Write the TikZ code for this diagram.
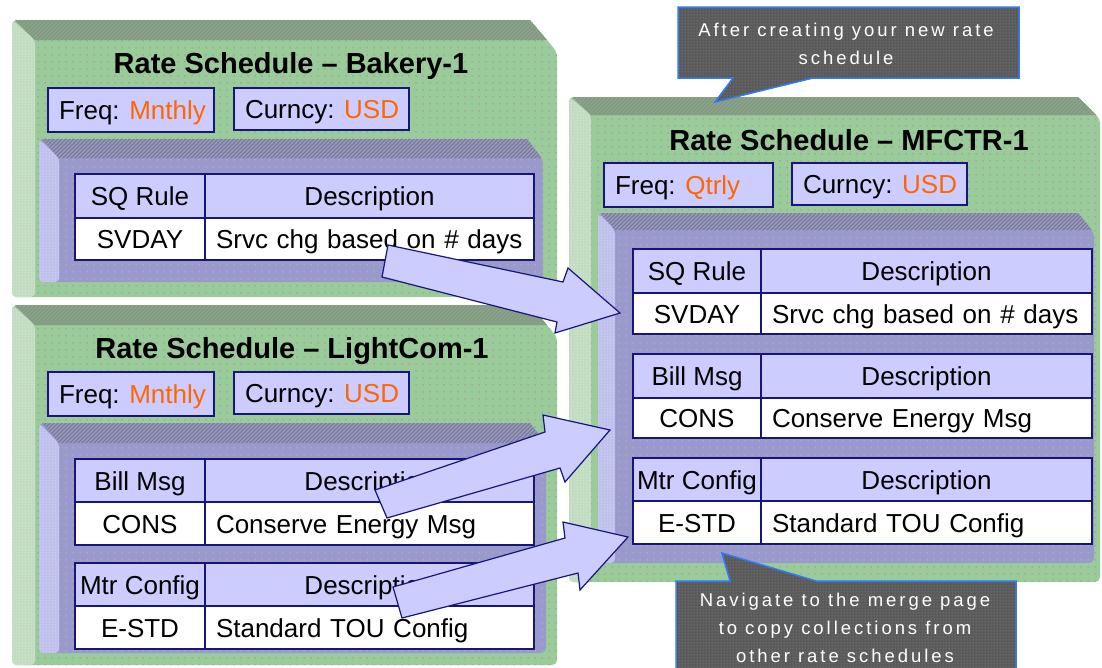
\documentclass[tikz,border=0pt]{standalone}
\usepackage{fontspec}
\setmainfont{Liberation Sans}
\newfontfamily\callfont[LetterSpace=16]{Liberation Sans}
\usetikzlibrary{patterns.meta}
\definecolor{gF}{HTML}{9ACC9A}
\definecolor{gDot}{HTML}{AE96AE}
\definecolor{gT}{HTML}{6FA36F}
\definecolor{gTH}{HTML}{9A9A9A}
\definecolor{gS}{HTML}{C2DCC2}
\definecolor{gSD}{HTML}{E6EEE6}
\definecolor{pF}{HTML}{9999CC}
\definecolor{pDot}{HTML}{B2ABD0}
\definecolor{pT}{HTML}{7474A8}
\definecolor{pTH}{HTML}{9E9EB4}
\definecolor{pS}{HTML}{C0C0EC}
\definecolor{pSD}{HTML}{E4E4FF}
\definecolor{navy}{HTML}{16167A}
\definecolor{lav}{HTML}{CCCCFF}
\definecolor{rsorange}{HTML}{FF6600}
\definecolor{cF}{HTML}{5A5A5A}
\definecolor{cD}{HTML}{828282}
\definecolor{cB}{HTML}{2A7BFF}
\pgfdeclarepattern{name=sdots, type=uncolored,
  bottom left={\pgfpoint{0pt}{0pt}}, top right={\pgfpoint{7pt}{7pt}},
  tile size={\pgfpoint{7pt}{7pt}},
  code={\pgfpathcircle{\pgfpoint{3.5pt}{3.5pt}}{1pt}\pgfusepath{fill}}}
\pgfdeclarepattern{name=fdots, type=uncolored,
  bottom left={\pgfpoint{0pt}{0pt}}, top right={\pgfpoint{3pt}{3pt}},
  tile size={\pgfpoint{3pt}{3pt}},
  code={\pgfpathcircle{\pgfpoint{1.5pt}{1.5pt}}{0.7pt}\pgfusepath{fill}}}
\pgfdeclarepattern{name=shatch, type=uncolored,
  bottom left={\pgfpoint{-1pt}{-1pt}}, top right={\pgfpoint{5pt}{5pt}},
  tile size={\pgfpoint{4pt}{4pt}},
  code={\pgfsetlinewidth{1.2pt}\pgfpathmoveto{\pgfpoint{-1pt}{-1pt}}\pgfpathlineto{\pgfpoint{5pt}{5pt}}\pgfusepath{stroke}}}
% 3D box: x1 y1 x2 y2 dx dy chamferw chamferh kind
\newcommand\tdbox[9]{%
  \path[#9front, rounded corners=5pt] (#1,#2) -- (#3-#7,#2) -- (#3,#2+#8) -- (#3,#4) -- (#1,#4) -- cycle;
  \path[#9side, rounded corners=4pt] (#1,#2) -- (#1+#5,#2+#6) -- (#1+#5,#4) -- (#1,#4) -- cycle;
  \path[#9top] (#1+3,#2) -- (#3-#7,#2) -- ({#3-#7+#7*#6/#8},#2+#6) -- (#1+#5,#2+#6) -- cycle;
}
% table: name y1 ym y2 head1 data1 data2
\newcommand\rstab[7]{%
  \node[hcell, anchor=north west, minimum width={\rsXb-\rsXa}, minimum height={#3-#2}] (#1h1) at (\rsXa,#2) {#5};
  \node[hcell, anchor=north west, minimum width={\rsXc-\rsXb}, minimum height={#3-#2}] (#1h2) at (\rsXb,#2) {Description};
  \node[dcell, anchor=north west, minimum width={\rsXb-\rsXa}, minimum height={#4-#3}] (#1d1) at (\rsXa,#3) {#6};
  \node[dcell, anchor=north west, minimum width={\rsXc-\rsXb}, minimum height={#4-#3}, text width=\rsXw, align=left, inner xsep=11pt] (#1d2) at (\rsXb,#3) {#7};
}
\begin{document}
\begin{tikzpicture}[x=1pt, y=-1pt,
  gfront/.style={fill=gF, postaction={pattern=sdots, pattern color=gDot}},
  gtop/.style={fill=gT, postaction={pattern=shatch, pattern color=gTH}},
  gside/.style={fill=gS, postaction={pattern=fdots, pattern color=gSD}},
  pfront/.style={fill=pF, postaction={pattern=sdots, pattern color=pDot}},
  ptop/.style={fill=pT, postaction={pattern=shatch, pattern color=pTH}},
  pside/.style={fill=pS, postaction={pattern=fdots, pattern color=pSD}},
  rsfont/.style={font=\fontsize{26}{30}\selectfont},
  hcell/.style={rsfont, draw=navy, line width=2pt, fill=lav, inner sep=0pt, text height=19pt, text depth=0pt},
  dcell/.style={rsfont, draw=navy, line width=2pt, fill=white, inner sep=0pt, text height=19pt, text depth=0pt},
  tagbox/.style={rsfont, draw=navy, line width=2pt, fill=lav, inner sep=0pt, inner xsep=11pt, text height=19pt, text depth=0pt, anchor=north west},
  title/.style={font=\fontsize{29}{34}\selectfont\bfseries, inner sep=0pt, text height=21pt, text depth=0pt},
  blockarrow/.style={fill=lav, draw=navy, line width=1.2pt, line join=miter},
  callbox/.style={fill=cF, postaction={pattern=fdots, pattern color=cD}, draw=cB, line width=1.5pt, line join=miter},
  calltext/.style={font=\callfont\fontsize{18.5}{28}\selectfont, text=white, align=center, inner sep=0pt, anchor=north}
]
\useasboundingbox (0,0) rectangle (1102,667);
\fill[white] (0,0) rectangle (1102,667);

% ---- Box 1: Bakery-1
\tdbox{12}{20}{557}{297}{23}{20}{27}{32}{g}
\node[title] (t1) at (291,63) {Rate Schedule – Bakery-1};
\node[tagbox, minimum height=44] (f1) at (47,87) {\makebox[144pt][l]{Freq: \textcolor{rsorange}{Mnthly}}};
\node[tagbox, minimum height=42] (c1) at (233,87) {\makebox[153pt][l]{Curncy: \textcolor{rsorange}{USD}}};
\tdbox{39}{139}{543}{282}{20}{19}{16}{21}{p}
\def\rsXa{74}\def\rsXb{204}\def\rsXc{533}\def\rsXw{307pt}
\rstab{ba}{173}{217}{259}{SQ Rule}{SVDAY}{Srvc chg based on \# days}

% ---- Box 2: LightCom-1
\tdbox{12}{305}{557}{665}{23}{20}{27}{32}{g}
\node[title] (t2) at (292,348) {Rate Schedule – LightCom-1};
\node[tagbox, minimum height=44] (f2) at (47,371) {\makebox[144pt][l]{Freq: \textcolor{rsorange}{Mnthly}}};
\node[tagbox, minimum height=42] (c2) at (233,371) {\makebox[153pt][l]{Curncy: \textcolor{rsorange}{USD}}};
\tdbox{39}{423}{546}{653}{20}{20}{16}{21}{p}
\rstab{lb}{458}{501}{544}{Bill Msg}{CONS}{Conserve Energy Msg}
\rstab{lm}{562}{605}{648}{Mtr Config}{E-STD}{Standard TOU Config}

% ---- Box 3: MFCTR-1
\tdbox{569}{97}{1100}{582}{22}{18}{22}{22}{g}
\node[title] (t3) at (849,140) {Rate Schedule – MFCTR-1};
\node[tagbox, minimum height=44] (f3) at (603,162) {\makebox[147pt][l]{Freq: \textcolor{rsorange}{Qtrly}}};
\node[tagbox, minimum height=42] (c3) at (791,162) {\makebox[153pt][l]{Curncy: \textcolor{rsorange}{USD}}};
\tdbox{598}{213}{1094}{563}{17}{17}{16}{20}{p}
\def\rsXa{632}\def\rsXb{760}\def\rsXc{1091}\def\rsXw{309pt}
\rstab{ms}{248}{292}{333}{SQ Rule}{SVDAY}{Srvc chg based on \# days}
\rstab{mb}{353}{397}{437}{Bill Msg}{CONS}{Conserve Energy Msg}
\rstab{mm}{457}{500}{543}{Mtr Config}{E-STD}{Standard TOU Config}

% ---- block arrows
\path[blockarrow] (388,245) -- (563,282) -- (568,268) -- (620,313) -- (555,333) -- (557,322) -- (382,277) -- cycle;
\path[blockarrow] (375,490) -- (545,432) -- (543,415) -- (610,430) -- (565,482) -- (560,468) -- (387,518) -- cycle;
\path[blockarrow] (393,587) -- (565,538) -- (563,522) -- (628,537) -- (580,590) -- (578,573) -- (402,618) -- cycle;

% ---- callouts
\path[callbox] (678,7) -- (1019,7) -- (1019,78) -- (813,78) -- (715,102) -- (733,78) -- (678,78) -- cycle;
\node[calltext] (n1) at (846,23) {After creating your new rate\\schedule};
\path[callbox] (676,581) -- (730,581) -- (722,553) -- (816,581) -- (1016,581) -- (1016,690) -- (676,690) -- cycle;
\node[calltext] (n2) at (845,593) {Navigate to the merge page\\to copy collections from\\other rate schedules};
\end{tikzpicture}
\end{document}
